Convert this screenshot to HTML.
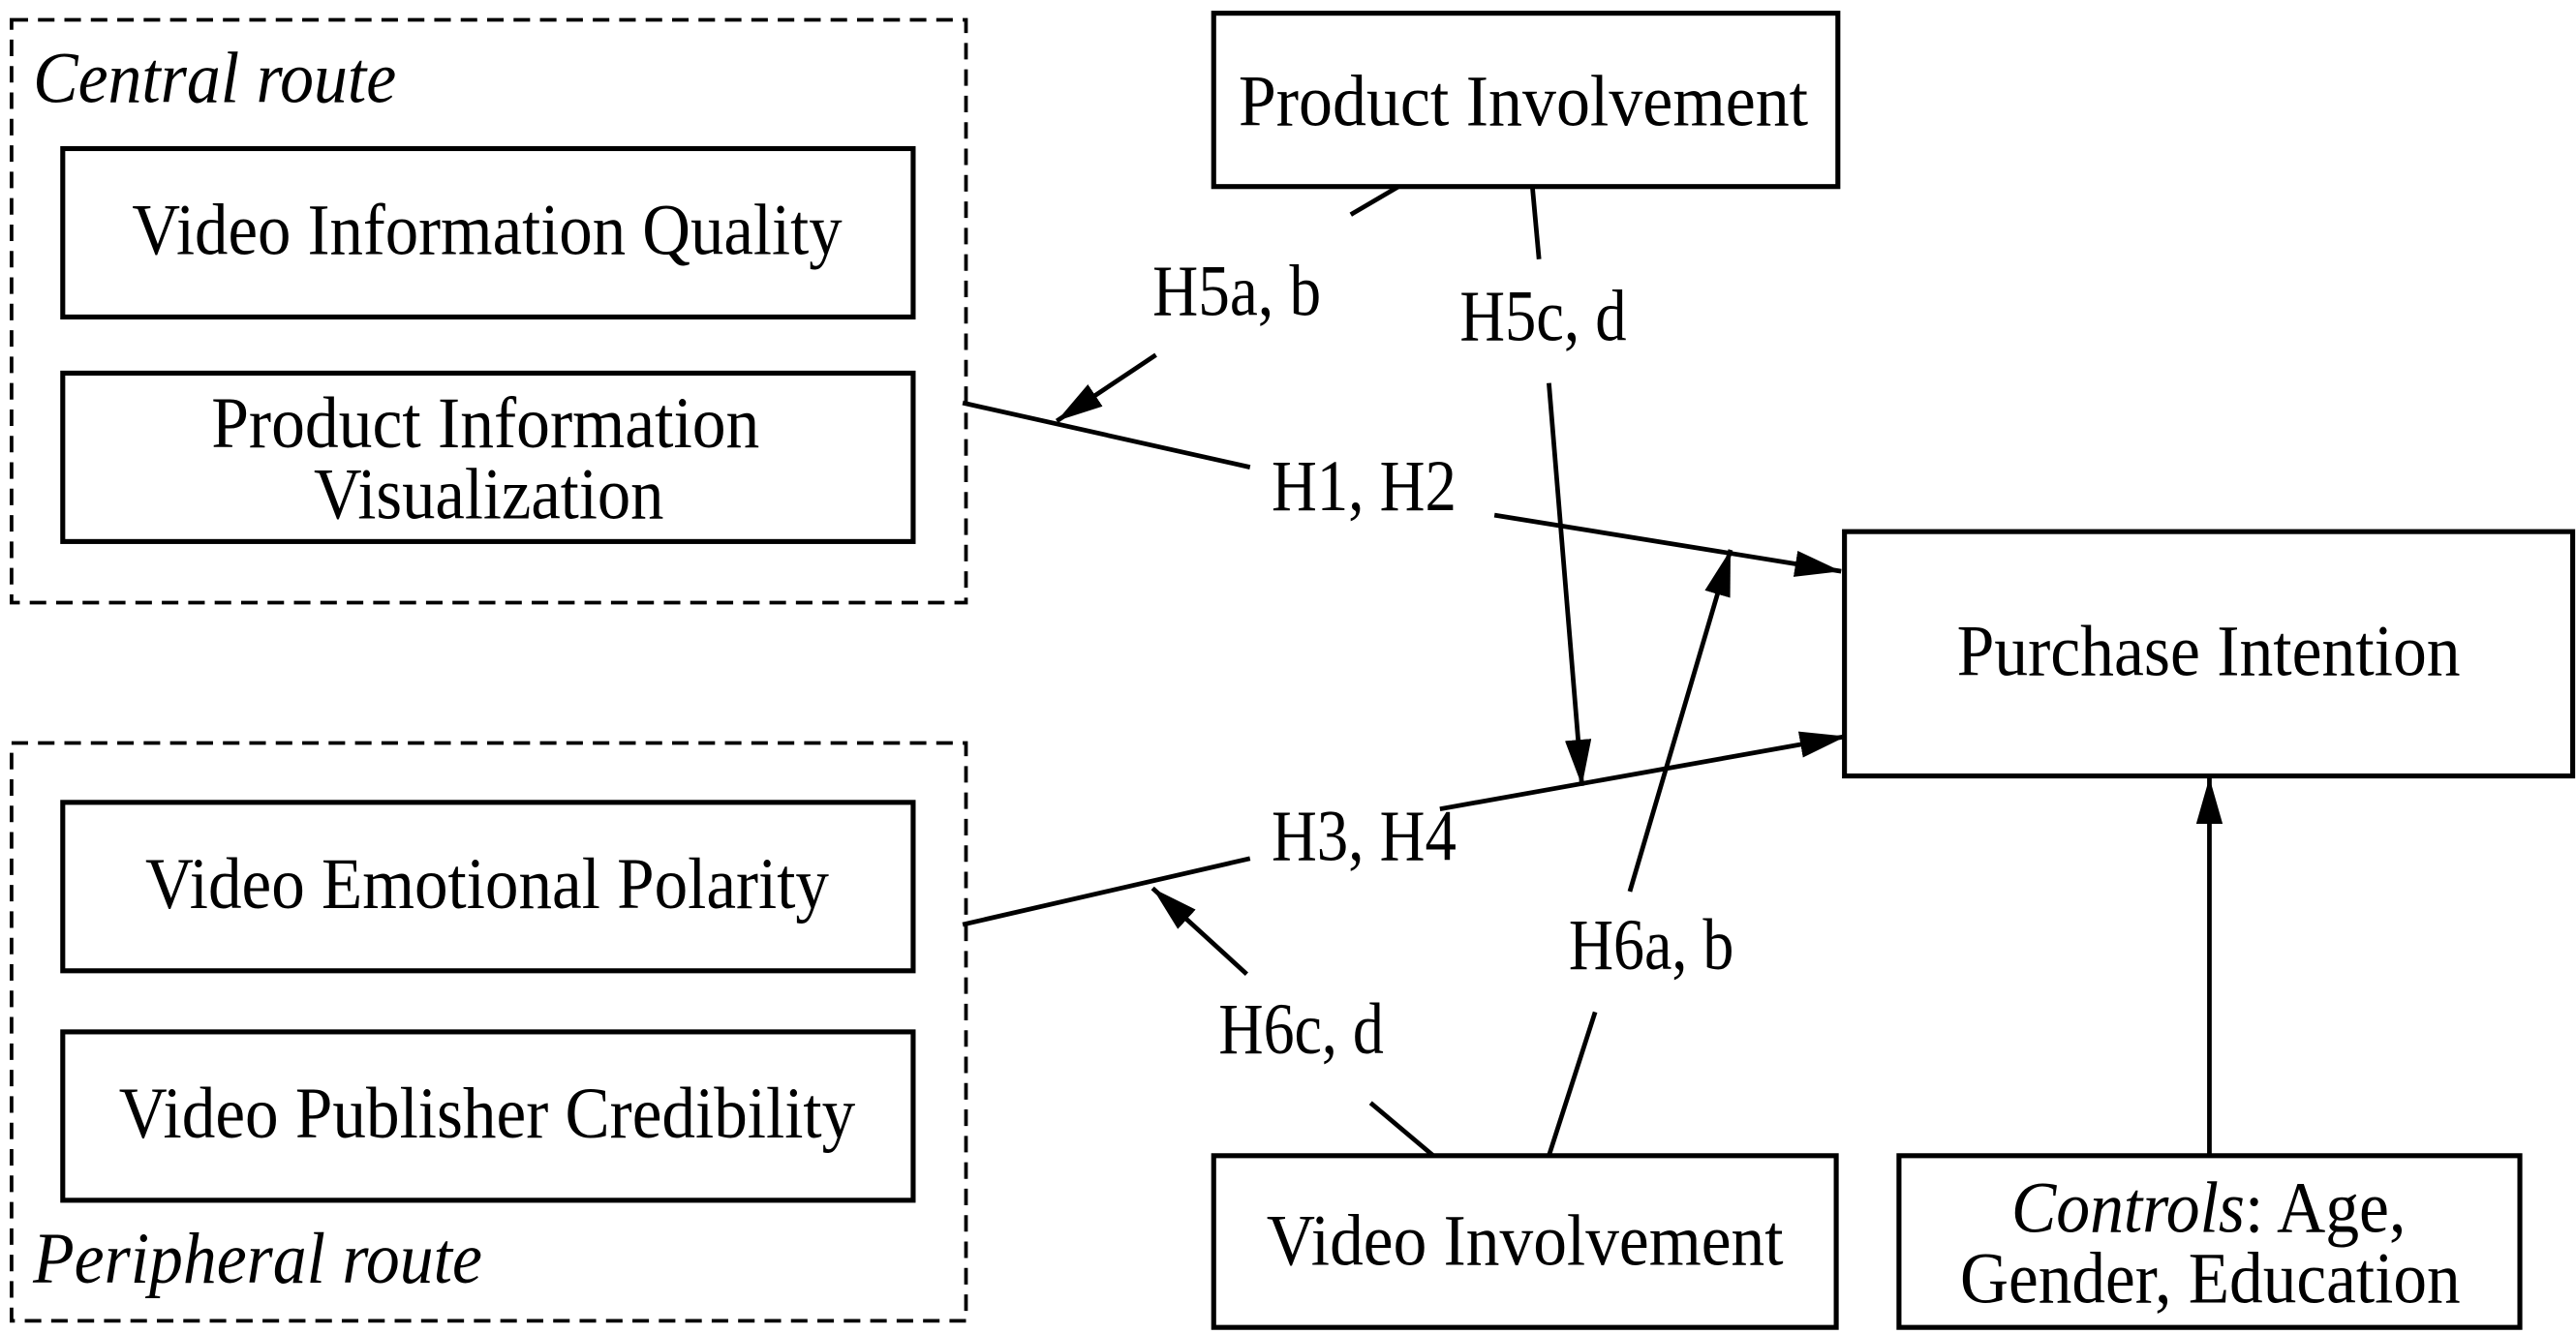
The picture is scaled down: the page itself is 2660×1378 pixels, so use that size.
<!DOCTYPE html>
<html><head><meta charset="utf-8"><style>
html,body{margin:0;padding:0;background:#fff;}
svg{display:block;}
text{font-family:"Liberation Serif",serif;font-size:44px;fill:#000;}
</style></head><body>
<svg width="2660" height="1378" viewBox="0 0 1560 808" preserveAspectRatio="none" xmlns="http://www.w3.org/2000/svg">
<defs>
<marker id="ah" viewBox="0 0 28 16" refX="28" refY="8" markerWidth="28" markerHeight="16" markerUnits="userSpaceOnUse" orient="auto"><path d="M0,0 L28,8 L0,16 Z" fill="#000"/></marker>
</defs>
<g fill="none" stroke="#000">
<rect x="7" y="12" width="578" height="353" stroke-width="2.2" stroke-dasharray="10,6"/>
<rect x="7" y="450" width="578" height="350" stroke-width="2.2" stroke-dasharray="10,6"/>
<g stroke-width="3">
<rect x="38" y="90" width="515" height="102"/>
<rect x="38" y="226" width="515" height="102"/>
<rect x="38" y="486" width="515" height="102"/>
<rect x="38" y="625" width="515" height="102"/>
<rect x="735" y="8" width="378" height="105"/>
<rect x="1117" y="322" width="441" height="148"/>
<rect x="735" y="700" width="377" height="104"/>
<rect x="1150" y="700" width="376" height="104"/>
</g>
<g stroke-width="2.8">
<line x1="583" y1="244" x2="757" y2="283"/>
<line x1="905" y1="312" x2="1115" y2="346" marker-end="url(#ah)"/>
<line x1="583" y1="560" x2="757" y2="520"/>
<line x1="872" y1="490" x2="1118" y2="446" marker-end="url(#ah)"/>
<line x1="847" y1="113" x2="818" y2="130"/>
<line x1="700" y1="215" x2="640" y2="255" marker-end="url(#ah)"/>
<line x1="928" y1="113" x2="932" y2="157"/>
<line x1="938" y1="232" x2="958" y2="476" marker-end="url(#ah)"/>
<line x1="938" y1="700" x2="966" y2="613"/>
<line x1="987" y1="540" x2="1048" y2="333" marker-end="url(#ah)"/>
<line x1="868" y1="700" x2="830" y2="668"/>
<line x1="755" y1="590" x2="698" y2="538" marker-end="url(#ah)"/>
<line x1="1338" y1="700" x2="1338" y2="471" marker-end="url(#ah)"/>
</g>
</g>
<g>
<text x="20" y="62" font-style="italic" textLength="220" lengthAdjust="spacingAndGlyphs">Central route</text>
<text x="20" y="777" font-style="italic" textLength="272" lengthAdjust="spacingAndGlyphs">Peripheral route</text>
<text x="80" y="154" textLength="430" lengthAdjust="spacingAndGlyphs">Video Information Quality</text>
<text x="128" y="271" textLength="332" lengthAdjust="spacingAndGlyphs">Product Information</text>
<text x="190" y="314" textLength="212" lengthAdjust="spacingAndGlyphs">Visualization</text>
<text x="88" y="550" textLength="414" lengthAdjust="spacingAndGlyphs">Video Emotional Polarity</text>
<text x="72" y="689" textLength="446" lengthAdjust="spacingAndGlyphs">Video Publisher Credibility</text>
<text x="750" y="76" textLength="345" lengthAdjust="spacingAndGlyphs">Product Involvement</text>
<text x="1185" y="409" textLength="305" lengthAdjust="spacingAndGlyphs">Purchase Intention</text>
<text x="767" y="766" textLength="313" lengthAdjust="spacingAndGlyphs">Video Involvement</text>
<text x="1218" y="746" textLength="239" lengthAdjust="spacingAndGlyphs"><tspan font-style="italic">Controls</tspan>: Age,</text>
<text x="1187" y="789" textLength="303" lengthAdjust="spacingAndGlyphs">Gender, Education</text>
<text x="770" y="309" textLength="112" lengthAdjust="spacingAndGlyphs">H1, H2</text>
<text x="770" y="521" textLength="112" lengthAdjust="spacingAndGlyphs">H3, H4</text>
<text x="698" y="191" textLength="102" lengthAdjust="spacingAndGlyphs">H5a, b</text>
<text x="884" y="206" textLength="101" lengthAdjust="spacingAndGlyphs">H5c, d</text>
<text x="950" y="587" textLength="100" lengthAdjust="spacingAndGlyphs">H6a, b</text>
<text x="738" y="638" textLength="100" lengthAdjust="spacingAndGlyphs">H6c, d</text>
</g>
</svg>
</body></html>
